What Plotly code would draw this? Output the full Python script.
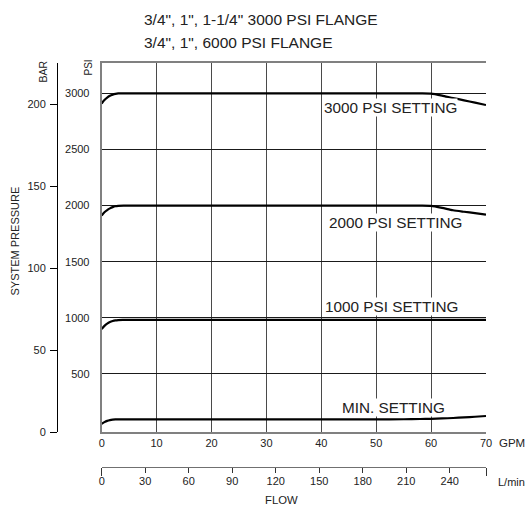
import plotly.graph_objects as go

# ---- data ----
gpm_3000 = [0, 0.5, 1, 1.5, 2, 2.5, 3, 4, 10, 20, 30, 40, 50, 58, 60, 62, 64, 66, 68, 70]
psi_3000 = [2910, 2940, 2962, 2978, 2988, 2995, 2999, 3000, 3000, 3000, 3000, 3000, 3000, 3000, 2998, 2980, 2958, 2938, 2917, 2896]

gpm_2000 = [0, 0.5, 1, 1.5, 2, 2.5, 3, 4, 10, 20, 30, 40, 50, 58, 60, 62, 64, 66, 68, 70]
psi_2000 = [1910, 1940, 1960, 1975, 1986, 1994, 1998, 2000, 2000, 2000, 2000, 2000, 2000, 2000, 1998, 1980, 1958, 1945, 1933, 1920]

gpm_1000 = [0, 0.5, 1, 1.5, 2, 2.5, 3, 4, 10, 20, 30, 40, 50, 60, 70]
psi_1000 = [900, 928, 948, 962, 971, 977, 980, 981, 981, 981, 981, 981, 981, 981, 981]

gpm_min = [0, 0.5, 1, 1.5, 2, 2.5, 3, 4, 10, 20, 30, 40, 50, 55, 58, 60, 62, 64, 66, 68, 70]
psi_min = [55, 70, 81, 88, 92, 94, 95, 95, 95, 95, 95, 95, 95, 96, 98, 100, 103, 107, 112, 118, 125]

gpm_ticks = [0, 10, 20, 30, 40, 50, 60, 70]
psi_ticks = [500, 1000, 1500, 2000, 2500, 3000]
bar_ticks = [0, 50, 100, 150, 200]
lpm_ticks = [0, 30, 60, 90, 120, 150, 180, 210, 240]
lpm_ends = [0, 70 * 3.78541]

setting_labels = ["3000 PSI SETTING", "2000 PSI SETTING", "1000 PSI SETTING", "MIN. SETTING"]
label_x = [52.6, 53.5, 52.8, 53.1]
label_y = [2870, 1848, 1105, 202]

header_lines = ['3/4", 1", 1-1/4" 3000 PSI FLANGE', '3/4", 1", 6000 PSI FLANGE']

# ---- figure ----
W, H = 525, 505
FONT = "Liberation Sans, Arial, sans-serif"
TXT = "#222222"

def px(x):
    return x / W

def py(y):
    return 1 - y / H

fig = go.Figure()
for xs, ys in [(gpm_3000, psi_3000), (gpm_2000, psi_2000), (gpm_1000, psi_1000), (gpm_min, psi_min)]:
    fig.add_trace(go.Scatter(x=xs, y=ys, mode="lines",
                             line=dict(color="black", width=2.2, shape="spline", smoothing=0.6),
                             showlegend=False, hoverinfo="skip"))

# invisible traces to activate the extra axes
fig.add_trace(go.Scatter(x=[0], y=[0], yaxis="y2", mode="markers", marker=dict(opacity=0),
                         showlegend=False, hoverinfo="skip"))
fig.add_trace(go.Scatter(x=[0], y=[0], xaxis="x2", yaxis="y3", mode="markers", marker=dict(opacity=0),
                         showlegend=False, hoverinfo="skip"))
fig.add_trace(go.Scatter(x=[0], y=[0], xaxis="x3", yaxis="y3", mode="markers", marker=dict(opacity=0),
                         showlegend=False, hoverinfo="skip"))

ydom = [py(432), py(62.5)]
xdom = [px(101.7), px(486)]

fig.update_layout(
    template="none",
    width=W, height=H, autosize=False,
    margin=dict(l=0, r=0, t=0, b=0, autoexpand=False),
    paper_bgcolor="white", plot_bgcolor="white",
    font=dict(family=FONT, color=TXT, size=11),
    xaxis=dict(domain=xdom, range=[0, 70], tickmode="array", tickvals=gpm_ticks,
               showgrid=True, gridcolor="#4a4a4a", gridwidth=1,
               showline=True, linecolor="#808080", linewidth=2, mirror=True,
               ticks="", ticklabelstandoff=0, zeroline=False, automargin=False,
               tickfont=dict(size=11, color=TXT), fixedrange=True),
    yaxis=dict(domain=ydom, range=[-17.8, 3275], tickmode="array", tickvals=psi_ticks,
               showgrid=True, gridcolor="#1a1a1a", gridwidth=1,
               showline=True, linecolor="#808080", linewidth=2,
               ticks="", ticklabelstandoff=8, zeroline=False, automargin=False,
               tickfont=dict(size=11, color=TXT), fixedrange=True),
    yaxis2=dict(overlaying="y", anchor="free", position=px(57), side="left",
                range=[0, 225.6], tickmode="array", tickvals=bar_ticks,
                showgrid=False, zeroline=False, showline=True, linecolor="black", linewidth=1,
                ticks="outside", ticklen=7, tickcolor="black", tickwidth=1, automargin=False,
                ticklabelstandoff=2, tickfont=dict(size=11, color=TXT), fixedrange=True),
    yaxis3=dict(domain=[py(467.3), py(466.3)], range=[0, 1], visible=False, fixedrange=True),
    xaxis2=dict(domain=xdom, anchor="y3", side="bottom",
                range=[0, lpm_ends[1]], tickmode="array", tickvals=lpm_ticks,
                showgrid=False, zeroline=False, showline=True, linecolor="#333333", linewidth=1,
                ticks="outside", ticklen=5, tickcolor="#333333", tickwidth=1, automargin=False,
                ticklabelstandoff=-2, tickfont=dict(size=11, color=TXT), fixedrange=True),
    xaxis3=dict(domain=xdom, anchor="y3", side="bottom",
                range=[0, lpm_ends[1]], tickmode="array", tickvals=lpm_ends,
                showgrid=False, zeroline=False, showline=False, showticklabels=False,
                automargin=False,
                ticks="outside", ticklen=8, tickcolor="#333333", tickwidth=1, fixedrange=True),
)

ann = []
for t, x, y in zip(setting_labels, label_x, label_y):
    ann.append(dict(text=t, x=x, y=y, xref="x", yref="y", showarrow=False,
                    xanchor="center", yanchor="middle",
                    font=dict(size=15.3, color=TXT), bgcolor="white", borderpad=0))

def paper_text(text, x, y, size, angle=0, xanchor="center"):
    return dict(text=text, x=px(x), y=py(y), xref="paper", yref="paper",
                xanchor=xanchor, yanchor="middle", textangle=angle, showarrow=False,
                font=dict(size=size, color=TXT))

ann.append(paper_text(header_lines[0], 142, 19.5, 15.5, xanchor="left"))
ann.append(paper_text(header_lines[1], 142, 43, 15.5, xanchor="left"))
ann.append(paper_text("BAR", 42.5, 72, 10.5, angle=-90))
ann.append(paper_text("PSI", 88, 67.5, 10, angle=-90))
ann.append(paper_text("SYSTEM PRESSURE", 14.5, 241, 11, angle=-90))
ann.append(paper_text("GPM", 497, 442.7, 11.5, xanchor="left"))
ann.append(paper_text("L/min", 496, 482, 11, xanchor="left"))
ann.append(paper_text("FLOW", 281, 499.5, 11.3))
fig.update_layout(annotations=ann)

fig.write_html("out.html", config={"displayModeBar": False},
               post_script="document.body.style.margin='0';document.body.style.padding='0';")
